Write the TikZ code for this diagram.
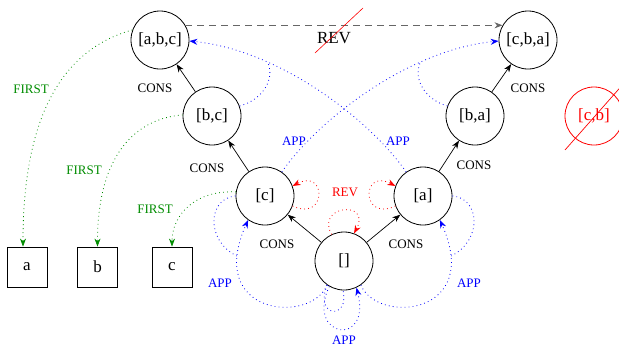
\documentclass[tikz,border=0pt]{standalone}
\usepackage{fontspec}
\setmainfont{Liberation Serif}
\usetikzlibrary{arrows.meta}
\definecolor{fgreen}{RGB}{0,140,0}
\begin{document}
\begin{tikzpicture}[x=1pt,y=-1pt,
  state/.style={circle,draw,line width=0.8pt,minimum size=58pt,inner sep=0pt,font=\fontsize{17}{20}\selectfont},
  leaf/.style={rectangle,draw,line width=0.8pt,minimum size=40pt,inner sep=0pt,font=\fontsize{17}{20}\selectfont},
  lbl/.style={font=\fontsize{13}{15}\selectfont,inner sep=0pt},
  tip/.style={-{Stealth[length=8pt,width=6pt,inset=2.5pt]}},
  cons/.style={tip,line width=0.7pt},
  dots/.style={line width=0.8pt,dash pattern=on 0.8pt off 3.2pt},
  app/.style={dots,blue},
  first/.style={dots,fgreen},
  rev/.style={dots,red},
  dashline/.style={tip,line width=0.9pt,draw=black!60,dash pattern=on 7pt off 5pt},
]
\useasboundingbox (0,0) rectangle (619,346);
% states
\node[state] (abc) at (160,40) {[a,b,c]};
\node[state] (cba) at (528,40) {[c,b,a]};
\node[state] (bc) at (212,116) {[b,c]};
\node[state] (ba) at (475,116) {[b,a]};
\node[state] (c) at (265,196) {[c]};
\node[state] (a) at (423,196) {[a]};
\node[state] (e) at (344,261) {[]};
\node[state,draw=red,text=red] (cb) at (594,116) {[c,b]};
\draw[red,line width=0.7pt] (565,150) -- (633,73);
% leaves
\node[leaf] (la) at (27,267) {a};
\node[leaf] (lb) at (97.5,267) {b};
\node[leaf] (lc) at (172,267) {c};
% CONS
\draw[cons] (e) -- (c);
\draw[cons] (e) -- (a);
\draw[cons] (c) -- (bc);
\draw[cons] (a) -- (ba);
\draw[cons] (bc) -- (abc);
\draw[cons] (ba) -- (cba);
\node[lbl] (k1) at (155,88) {CONS};
\node[lbl] (k2) at (528,88) {CONS};
\node[lbl] (k3) at (207,168) {CONS};
\node[lbl] (k4) at (474,165) {CONS};
\node[lbl] (k5) at (277,244) {CONS};
\node[lbl] (k6) at (406,244) {CONS};
% crossed REV
\draw[dashline] (abc.30) -- (cba.150);
\node[font=\fontsize{17}{20}\selectfont,inner sep=0pt] (revtop) at (334,38) {REV};
\draw[red,line width=0.6pt] (315,53) -- (363,8);
% APP upper
\coordinate (m1) at (268,63);
\coordinate (m2) at (420,63);
\draw[app,tip] (a.125) .. controls (370,120) and (280,50) .. (abc.-2);
\draw[app] (bc.20) .. controls (262,100) and (275,80) .. (m1);
\draw[app,tip] (c.55) .. controls (318,120) and (408,50) .. (cba.182);
\draw[app] (ba.160) .. controls (426,100) and (413,80) .. (m2);
\node[lbl,text=blue] (p1) at (294,141) {APP};
\node[lbl,text=blue] (p2) at (398,141) {APP};
% APP lower
\coordinate (m3) at (236.7,256);
\coordinate (m4) at (451.3,256);
\draw[app,tip] (e.235) .. controls (310,325) and (205,315) .. (c.235);
\draw[app] (c.180) .. controls (208,198) and (205,240) .. (m3);
\draw[app,tip] (e.305) .. controls (378,325) and (483,315) .. (a.305);
\draw[app] (a.0) .. controls (480,198) and (483,240) .. (m4);
\draw[app] (e.235) .. controls (314,318) and (350,320) .. (e.268);
\draw[app,tip] (e.240) .. controls (305,338) and (372,348) .. (e.295);
\node[lbl,text=blue] (p3) at (220,283) {APP};
\node[lbl,text=blue] (p4) at (469,283) {APP};
\node[lbl,text=blue] (p5) at (344,340) {APP};
% REV loops
\draw[rev,tip] (c.-20) .. controls (327,222) and (327,168) .. (c.20);
\draw[rev,tip] (a.200) .. controls (361,222) and (361,168) .. (a.160);
\draw[rev,tip] (e.115) .. controls (315,205) and (372,200) .. (e.70);
\node[lbl,text=red] (r1) at (345,192) {REV};
% FIRST
\draw[first,tip] (abc.160) .. controls (60,50) and (23,120) .. ([xshift=-4pt]la.north);
\draw[first,tip] (bc.178) .. controls (140,118) and (97.5,150) .. (lb.north);
\draw[first,tip] (c.172) .. controls (195,190) and (172,215) .. (lc.north);
\node[lbl,text=fgreen] (f1) at (31,89) {FIRST};
\node[lbl,text=fgreen] (f2) at (84,170) {FIRST};
\node[lbl,text=fgreen] (f3) at (155,209) {FIRST};
\end{tikzpicture}
\end{document}
